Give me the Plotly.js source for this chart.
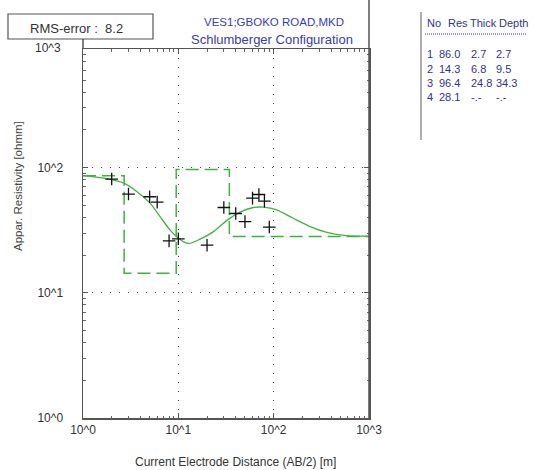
<!DOCTYPE html>
<html>
<head>
<meta charset="utf-8">
<script src="https://cdn.plot.ly/plotly-3.0.1.min.js"></script>
<style>html,body{margin:0;padding:0;background:#fff}#chart{width:559px;height:470px}</style>
</head>
<body>
<div id="chart"></div>
<script>
// ---- data ----
const obsAB2 = [2, 3, 5, 6, 8, 10, 20, 30, 40, 50, 60, 70, 80, 90];
const obsRho = [81, 61.5, 58.5, 53, 26, 27, 24, 48, 43, 37, 57, 61, 54, 33.5];
const fitAB2 = [1, 1.9, 2.65, 3.66, 5.05, 6.43, 8.17, 10, 12.7, 16.9, 23.4, 32.1, 44.4, 61.3, 78.2, 107.6, 160, 241, 362, 581, 950, 1000];
const fitRho = [86.3, 81, 75.4, 64.5, 52, 40.6, 31.8, 27.3, 24.8, 26.8, 30.8, 37.7, 44.1, 48, 48.3, 46, 39.4, 33.8, 30.4, 28.6, 28.3, 28.2];
const layerNo = [1, 2, 3, 4];
const layerRes = [86.0, 14.3, 96.4, 28.1];
const layerThick = [2.7, 6.8, 24.8, null];
const layerDepth = [2.7, 9.5, 34.3, null];
const xTickVals = [1, 10, 100, 1000];
const xTickText = ['10^0', '10^1', '10^2', '10^3'];
const yTickVals = [1, 10, 100];
const yTickText = ['10^0', '10^1', '10^2'];
const rmsError = 8.2;
const titleLines = ['VES1;GBOKO ROAD,MKD', 'Schlumberger Configuration'];

// model step curve built from layer table
const stepX = [], stepY = [];
let prev = 1;
for (let i = 0; i < layerRes.length; i++) {
  const end = layerDepth[i] == null ? 1000 : layerDepth[i];
  stepX.push(prev, end);
  stepY.push(layerRes[i], layerRes[i]);
  prev = end;
}

// minor ticks 2..9 per decade
const minorVals = [];
for (let d = 1; d <= 100; d *= 10) for (let k = 2; k <= 9; k++) minorVals.push(k * d);

const W = 559, H = 470, L = 83, R = 369, T = 49, B = 418;
const px = x => (x - L) / (R - L);
const py = y => (B - y) / (B - T);

const FONT = '"Liberation Sans", Arial, sans-serif';
const blue = '#3b3bb0';
const tblBlue = '#33338f';
const green = '#3cb43c';

const ann = [];
function txt(text, x, y, opt) {
  ann.push(Object.assign({text: text, x: px(x), y: py(y), xref: 'paper', yref: 'paper',
    showarrow: false, xanchor: 'center', yanchor: 'middle',
    font: {family: FONT, size: 12, color: '#333'}}, opt || {}));
}
txt('RMS-error :  ' + rmsError.toFixed(1), 76, 28, {font: {family: FONT, size: 13, color: '#333'}});
txt(titleLines[0], 274, 22, {font: {family: FONT, size: 11.5, color: blue}});
txt(titleLines[1], 272, 40, {font: {family: FONT, size: 13, color: blue}});
txt('10^3', 63, 48, {xanchor: 'right', font: {family: FONT, size: 12, color: '#333'}});
txt('Current Electrode Distance (AB/2) [m]', 235, 462, {font: {family: FONT, size: 12, color: '#333'}});
txt('Appar. Resistivity [ohmm]', 18, 186, {textangle: -90, font: {family: FONT, size: 11.5, color: '#444'}});

// table
const tf = {family: FONT, size: 11, color: tblBlue};
txt('No', 425, 23, {xanchor: 'left', font: tf});
txt('Res', 446, 23, {xanchor: 'left', font: tf});
txt('Thick', 468, 23, {xanchor: 'left', font: tf});
txt('Depth', 497, 23, {xanchor: 'left', font: tf});
const rowY = [54, 68.5, 83, 97];
for (let i = 0; i < layerNo.length; i++) {
  txt(String(layerNo[i]), 425, rowY[i], {xanchor: 'left', font: tf});
  txt(layerRes[i].toFixed(1), 437, rowY[i], {xanchor: 'left', font: tf});
  txt(layerThick[i] == null ? '-.-' : layerThick[i].toFixed(1), 469, rowY[i], {xanchor: 'left', font: tf});
  txt(layerDepth[i] == null ? '-.-' : layerDepth[i].toFixed(1), 494, rowY[i], {xanchor: 'left', font: tf});
}

const lineC = '#555';
const shapes = [
  {type: 'line', xref: 'paper', yref: 'paper', x0: 1, x1: 1, y0: 0, y1: py(0), line: {color: lineC, width: 1.5}},
  {type: 'line', xref: 'paper', yref: 'paper', x0: 0, x1: 0, y0: 1, y1: py(39), line: {color: lineC, width: 1.5}},
  {type: 'rect', xref: 'paper', yref: 'paper', x0: px(8), x1: px(153), y0: py(39), y1: py(14), line: {color: lineC, width: 1.2}},
  {type: 'line', xref: 'paper', yref: 'paper', x0: px(421), x1: px(421), y0: py(12), y1: py(140), line: {color: '#777', width: 1.2}},
  {type: 'line', xref: 'paper', yref: 'paper', x0: px(425), x1: px(527), y0: py(34), y1: py(34), line: {color: tblBlue, width: 1, dash: '1px,1px'}}
];

const axisCommon = {
  type: 'log', showline: true, linecolor: lineC, linewidth: 1.5, mirror: 'ticks',
  ticks: 'inside', ticklen: 5, tickcolor: lineC, tickmode: 'array',
  showgrid: true, gridcolor: '#444', gridwidth: 1, griddash: '1px,8px',
  zeroline: false, tickfont: {family: FONT, size: 12, color: '#333'},
  minor: {tickmode: 'array', tickvals: minorVals, ticks: 'inside', ticklen: 2.5, tickcolor: '#666', showgrid: false}
};

const data = [
  {x: stepX, y: stepY, type: 'scatter', mode: 'lines', line: {color: green, width: 1.5, dash: '13px,6px'}, hoverinfo: 'skip'},
  {x: fitAB2, y: fitRho, type: 'scatter', mode: 'lines', line: {color: green, width: 1.3, shape: 'spline', smoothing: 0.8}},
  {x: obsAB2, y: obsRho, type: 'scatter', mode: 'markers', marker: {symbol: 'cross-thin', size: 9, line: {color: '#111', width: 1.3}}}
];

const layout = {
  width: W, height: H, margin: {l: L, r: W - R, t: T, b: H - B, pad: 0},
  paper_bgcolor: '#fff', plot_bgcolor: '#fff', showlegend: false,
  xaxis: Object.assign({}, axisCommon, {range: [0, 3], tickvals: xTickVals, ticktext: xTickText}),
  yaxis: Object.assign({}, axisCommon, {range: [0, (B - T) / 125.2], tickvals: yTickVals, ticktext: yTickText, ticklabelstandoff: 16}),
  annotations: ann, shapes: shapes
};

Plotly.newPlot('chart', data, layout, {displayModeBar: false, staticPlot: true});
</script>
</body>
</html>
